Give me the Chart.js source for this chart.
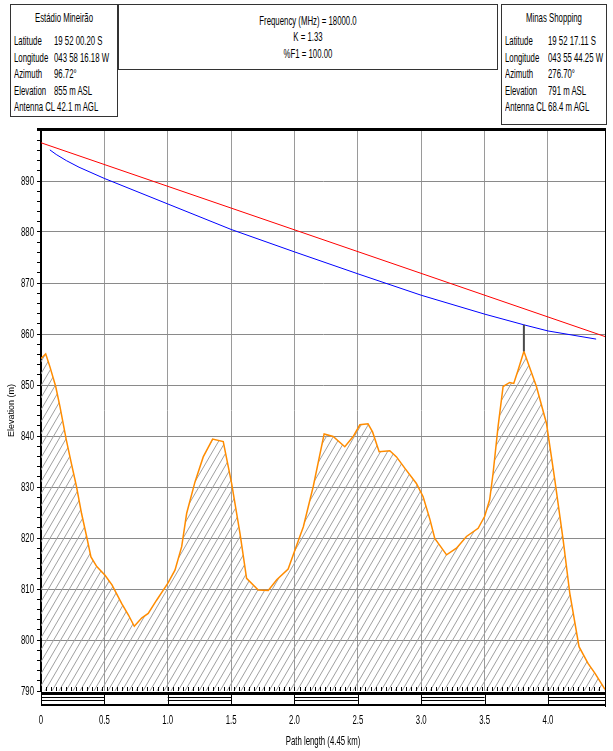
<!DOCTYPE html>
<html>
<head>
<meta charset="utf-8">
<script src="https://cdn.jsdelivr.net/npm/chart.js@4.4.1/dist/chart.umd.min.js"></script>
<style>
  html, body { margin: 0; padding: 0; background: #fff; }
  #wrap { position: relative; width: 613px; height: 751px; overflow: hidden; }
  canvas { position: absolute; left: 0; top: 0; }
  .box {
    position: absolute;
    border: 1px solid #333;
    background: #fff;
    font: 13px 'Liberation Sans', Arial, sans-serif;
    color: #000;
  }
  /* the reference uses a very condensed face, so squeeze the text */
  .box div {
    position: absolute;
    white-space: nowrap;
    line-height: 14px;
    transform: scaleX(0.6);
    transform-origin: 0 50%;
  }
  .box .c { left: 0; right: 0; text-align: center; transform-origin: 50% 50%; }
</style>
</head>
<body>
<div id="wrap">
  <canvas id="profile" width="613" height="751"></canvas>

  <div class="box" style="left:10px;top:4px;width:106px;height:111px;">
    <div class="c" style="top:6px;">Estádio Mineirão</div>
    <div style="left:3px;top:29px;">Latitude</div><div style="left:43px;top:29px;">19 52 00.20 S</div>
    <div style="left:3px;top:46px;">Longitude</div><div style="left:43px;top:46px;">043 58 16.18 W</div>
    <div style="left:3px;top:62px;">Azimuth</div><div style="left:43px;top:62px;">96.72°</div>
    <div style="left:3px;top:79px;">Elevation</div><div style="left:43px;top:79px;">855 m ASL</div>
    <div style="left:3px;top:95px;">Antenna CL 42.1 m AGL</div>
  </div>

  <div class="box" style="left:118px;top:4px;width:378px;height:64px;">
    <div class="c" style="top:9px;">Frequency (MHz) = 18000.0</div>
    <div class="c" style="top:25px;">K = 1.33</div>
    <div class="c" style="top:42px;">%F1 = 100.00</div>
  </div>

  <div class="box" style="left:501px;top:4px;width:104px;height:119px;">
    <div class="c" style="top:6px;">Minas Shopping</div>
    <div style="left:3px;top:29px;">Latitude</div><div style="left:46px;top:29px;">19 52 17.11 S</div>
    <div style="left:3px;top:46px;">Longitude</div><div style="left:46px;top:46px;">043 55 44.25 W</div>
    <div style="left:3px;top:62px;">Azimuth</div><div style="left:46px;top:62px;">276.70°</div>
    <div style="left:3px;top:79px;">Elevation</div><div style="left:46px;top:79px;">791 m ASL</div>
    <div style="left:3px;top:95px;">Antenna CL 68.4 m AGL</div>
  </div>
</div>

<script>
'use strict';

// * Terrain profile: distance (km) and ground elevation (m).
const terrainKm = [
  0, 0.037, 0.07, 0.116, 0.15, 0.2, 0.24, 0.28, 0.32, 0.36, 0.394, 0.44, 0.505, 0.56,
  0.636, 0.69, 0.736, 0.794, 0.846, 0.912, 1.0, 1.057, 1.11, 1.149, 1.215, 1.28, 1.354,
  1.438, 1.504, 1.57, 1.622, 1.714, 1.793, 1.86, 1.95, 2.003, 2.07, 2.148, 2.234, 2.305,
  2.397, 2.463, 2.516, 2.58, 2.616, 2.668, 2.752, 2.805, 2.87, 2.962, 3.015, 3.068, 3.107,
  3.2, 3.278, 3.357, 3.449, 3.5, 3.54, 3.567, 3.606, 3.646, 3.698, 3.73, 3.764, 3.81,
  3.909, 3.988, 4.054, 4.12, 4.172, 4.245, 4.316, 4.37, 4.45,
];
const terrainElev = [
  855.2, 856.1, 853.6, 849.7, 845.7, 839.2, 834.6, 830.1, 824.8, 820.3, 816.3, 814.4, 812.7, 810.8,
  807.2, 804.9, 802.7, 804.3, 805.2, 807.8, 811.1, 813.7, 818.3, 824.8, 831.0, 835.9, 839.4,
  838.9, 830.7, 820.9, 812.1, 809.8, 809.7, 811.8, 813.9, 817.6, 822.2, 830.1, 840.4, 839.9,
  837.9, 839.9, 842.2, 842.4, 840.8, 836.9, 837.1, 835.9, 833.7, 830.7, 828.1, 823.7, 819.9,
  816.7, 818.0, 820.3, 821.9, 824.2, 827.5, 832.7, 841.8, 849.7, 850.5, 850.3, 852.9, 856.6,
  849.7, 842.5, 831.4, 819.6, 809.2, 798.7, 795.4, 793.5, 790.3,
];

// * Line of sight between antennas (red).
const losKm = [0, 4.45];
const losElev = [897.5, 859.5];

// * Fresnel zone lower edge (blue).
const fresnelKm = [0.07, 0.12, 0.2, 0.3, 0.5, 1.0, 1.5, 2.0, 2.5, 3.0, 3.5, 3.81, 4.0, 4.38];
const fresnelElev = [896.1, 895.2, 894.0, 892.7, 890.5, 885.5, 880.5, 876.1, 871.8, 867.6, 863.9, 861.8, 860.6, 859.0];

// * Worst clearance point: terrain peak up to the fresnel line.
const clearanceKm = [3.81, 3.81];
const clearanceElev = [856.6, 861.8];

const xTicks = [0, 0.5, 1.0, 1.5, 2.0, 2.5, 3.0, 3.5, 4.0];
const yMin = 790;
const yMax = 900;

const FONT = "'Liberation Sans', Arial, sans-serif";

const pts = (xs, ys) => xs.map((x, i) => ({ x, y: ys[i] }));

// * Diagonal hatch used under the terrain line.
function hatch() {
  const w = 7, h = 12;
  const pc = document.createElement('canvas');
  pc.width = w;
  pc.height = h;
  const p = pc.getContext('2d');
  p.strokeStyle = '#a0a0a0';
  p.lineWidth = 1;
  for (let k = -1; k <= 1; k++) {
    p.beginPath();
    p.moveTo(k * w, h);
    p.lineTo(k * w + w, 0);
    p.stroke();
  }
  return p.createPattern(pc, 'repeat');
}

// * Squeezes horizontal canvas text the same way as the boxes above.
const narrowText = {
  id: 'narrowText',
  beforeInit(chart) {
    const c = chart.ctx;
    const orig = c.fillText.bind(c);
    c.fillText = function (t, x, y) {
      if (c.getTransform().b !== 0) return orig(t, x, y);
      c.save();
      c.translate(x, y);
      c.scale(0.6, 1);
      orig(t, 0, 0);
      c.restore();
    };
  },
};

// * Top border, right border and the ruler strip under the plot.
const frame = {
  id: 'frame',
  afterDatasetsDraw(chart) {
    const { ctx, chartArea: a, scales: { x } } = chart;
    const b = a.bottom;
    ctx.save();
    ctx.fillStyle = '#000';
    ctx.fillRect(a.left - 4, a.top - 2, a.right - a.left + 5, 3);
    ctx.fillRect(a.right, a.top, 1, b - a.top + 16);

    ctx.strokeStyle = '#000';
    ctx.lineWidth = 1;
    ctx.beginPath();
    for (let k = 0.04; k < 4.44; k += 0.04) {
      const px = Math.round(x.getPixelForValue(k)) + 0.5;
      ctx.moveTo(px, b - 4);
      ctx.lineTo(px, b);
    }
    ctx.stroke();

    ctx.fillRect(a.left, b + 1, a.right - a.left + 1, 3);
    ctx.fillRect(a.left, b + 13, a.right - a.left + 1, 2);
    ctx.beginPath();
    for (let i = 0; i * 0.5 < 4.45; i++) {
      const x0 = x.getPixelForValue(i * 0.5);
      const x1 = x.getPixelForValue(Math.min(4.45, i * 0.5 + 0.5));
      const xv = Math.round(x0) + 0.5;
      ctx.moveTo(xv, b + 2);
      ctx.lineTo(xv, b + 14);
      if (i % 2 === 0) {
        ctx.moveTo(x0, b + 6.5);
        ctx.lineTo(x1, b + 6.5);
        ctx.moveTo(x0, b + 9.5);
        ctx.lineTo(x1, b + 9.5);
      }
    }
    ctx.stroke();
    ctx.restore();
  },
};

const ctx = document.getElementById('profile').getContext('2d');

new Chart(ctx, {
  type: 'line',
  data: {
    datasets: [
      {
        data: pts(clearanceKm, clearanceElev),
        borderColor: '#4a4a4a',
        borderWidth: 2,
        pointRadius: 0,
        fill: false,
      },
      {
        data: pts(losKm, losElev),
        borderColor: '#ff0000',
        borderWidth: 1,
        pointRadius: 0,
        fill: false,
      },
      {
        data: pts(fresnelKm, fresnelElev),
        borderColor: '#0000ff',
        borderWidth: 1,
        pointRadius: 0,
        fill: false,
      },
      {
        data: pts(terrainKm, terrainElev),
        borderColor: '#ff8c00',
        borderWidth: 1.5,
        pointRadius: 0,
        backgroundColor: hatch(),
        fill: 'start',
      },
    ],
  },
  options: {
    responsive: false,
    animation: false,
    devicePixelRatio: 1,
    layout: { padding: { top: 130, right: 8, left: 0, bottom: 0 } },
    plugins: { legend: { display: false }, tooltip: { enabled: false } },
    scales: {
      x: {
        type: 'linear',
        min: 0,
        max: 4.45,
        afterBuildTicks: (s) => { s.ticks = xTicks.map((v) => ({ value: v })); },
        afterFit: (s) => { s.height = 60; },
        grid: { color: '#9a9a9a', drawTicks: false },
        border: { display: false },
        ticks: {
          padding: 22,
          autoSkip: false,
          maxRotation: 0,
          color: '#000',
          font: { family: FONT, size: 13 },
          callback: (v) => (v === 0 ? '0' : v.toFixed(1)),
        },
        title: {
          display: true,
          text: 'Path length (4.45 km)',
          color: '#000',
          font: { family: FONT, size: 13 },
          padding: { top: 0, bottom: 2 },
        },
      },
      y: {
        min: yMin,
        max: yMax,
        afterFit: (s) => { s.width = 41; },
        border: { color: '#000', width: 2 },
        grid: {
          color: (c) => {
            const v = c.tick && c.tick.value;
            return v % 10 === 0 && v > yMin && v < yMax ? '#8a8a8a' : 'rgba(0,0,0,0)';
          },
          tickColor: '#000',
          tickLength: 4,
        },
        ticks: {
          stepSize: 2,
          autoSkip: false,
          padding: 3,
          color: '#000',
          font: { family: FONT, size: 13 },
          callback: (v) => (v % 10 === 0 && v < yMax ? String(v) : ''),
        },
        title: {
          display: true,
          text: 'Elevation (m)',
          color: '#000',
          font: { family: FONT, size: 9 },
          padding: { top: 6, bottom: 2 },
        },
      },
    },
  },
  plugins: [narrowText, frame],
});
</script>
</body>
</html>
